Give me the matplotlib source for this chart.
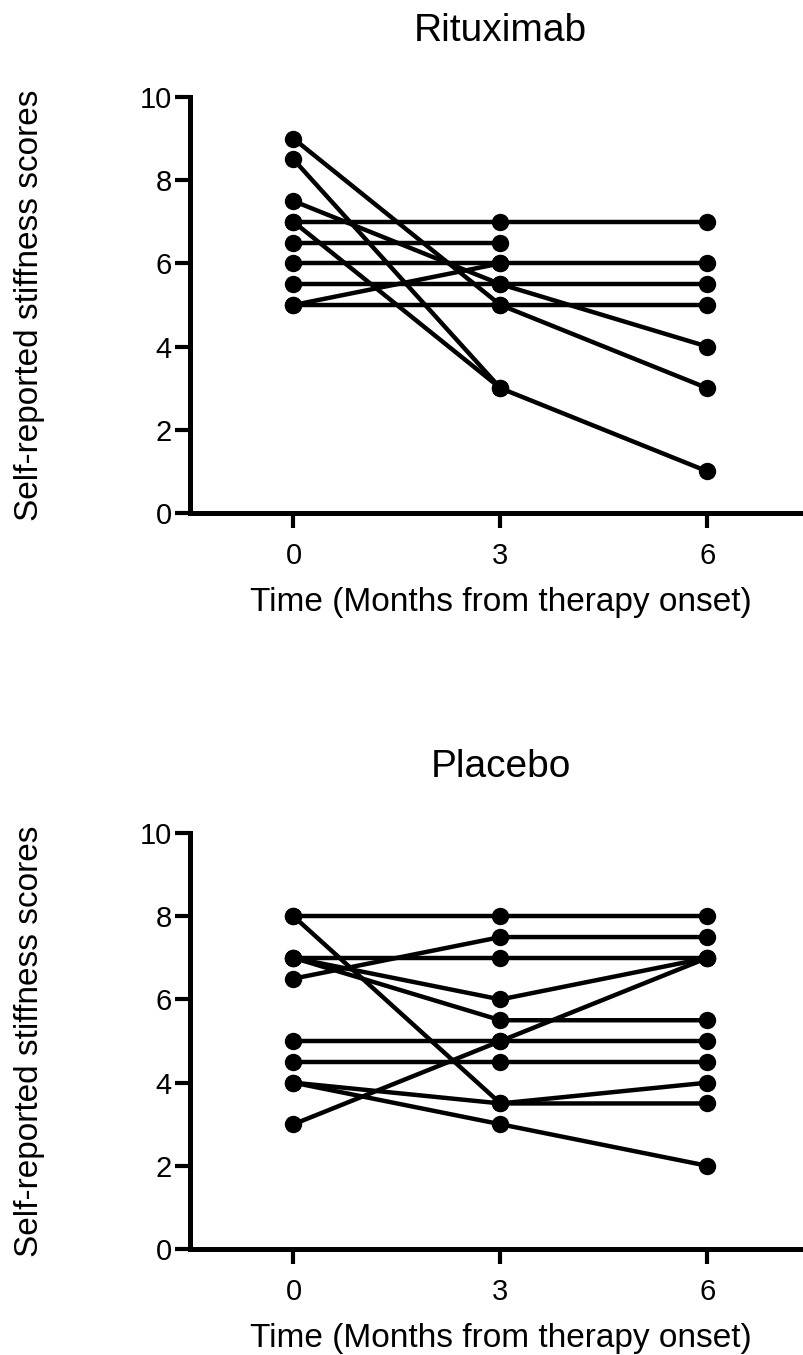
# Stiffness scores over time, rituximab vs placebo (paired lines per patient)

import matplotlib
matplotlib.use("Agg")
import matplotlib.pyplot as plt
import numpy as np

MONTHS = [0, 3, 6]
NAN = np.nan

# one row per patient: score at 0, 3, 6 months
RITUXIMAB = [
    [9.0, 5.0, 3.0],
    [8.5, 3.0, 1.0],
    [7.5, 5.5, 4.0],
    [7.0, 3.0, NAN],
    [7.0, 7.0, 7.0],
    [6.5, 6.5, NAN],
    [6.0, 6.0, 6.0],
    [5.5, 5.5, 5.5],
    [5.0, 5.0, 5.0],
    [5.0, 6.0, NAN],
]

PLACEBO = [
    [8.0, 8.0, 8.0],
    [8.0, 3.5, 4.0],
    [6.5, 7.5, 7.5],
    [7.0, 7.0, 7.0],
    [7.0, 6.0, 7.0],
    [7.0, 5.5, 5.5],
    [5.0, 5.0, 5.0],
    [4.5, 4.5, 4.5],
    [4.0, 3.5, 3.5],
    [4.0, 3.0, 2.0],
    [3.0, 5.0, 7.0],
]

Y_TICKS = [0, 2, 4, 6, 8, 10]
XLABEL = "Time (Months from therapy onset)"
YLABEL = "Self-reported stiffness scores"

plt.rcParams["font.family"] = ["Liberation Sans", "DejaVu Sans"]


def _panel(ax, rows, title):
  for row in rows:
    ax.plot(MONTHS, row, color="black", linewidth=3.2, marker="o", markersize=11.5,
            solid_capstyle="butt", clip_on=False)

  ax.set_xlim(-1.5, 7.5)
  ax.set_ylim(0, 10)
  ax.set_xticks(MONTHS)
  ax.set_yticks(Y_TICKS)

  for side in ("top", "right"):
    ax.spines[side].set_visible(False)
  for side in ("left", "bottom"):
    ax.spines[side].set_linewidth(3.6)

  ax.tick_params(axis="both", length=11, width=3, labelsize=21, color="black")
  ax.tick_params(axis="x", pad=10)
  ax.tick_params(axis="y", pad=2)

  ax.set_xlabel(XLABEL, fontsize=24)
  ax.xaxis.set_label_coords(0.5, -0.178)
  ax.xaxis.label.set_verticalalignment("top")
  ax.set_ylabel(YLABEL, fontsize=24)
  ax.yaxis.set_label_coords(-0.234, 0.5)

  ax.text(0.5, 1.135, title, transform=ax.transAxes, fontsize=28,
          ha="center", va="baseline")


def main():
  fig = plt.figure(figsize=(8.04, 13.55), dpi=100)
  ax_top = fig.add_axes([0.2363, 0.6214, 0.7724, 0.3070])
  ax_bot = fig.add_axes([0.2363, 0.0782, 0.7724, 0.3070])

  _panel(ax_top, RITUXIMAB, "Rituximab")
  _panel(ax_bot, PLACEBO, "Placebo")

  fig.savefig("out.png", dpi=100)


if __name__ == "__main__":
  main()
